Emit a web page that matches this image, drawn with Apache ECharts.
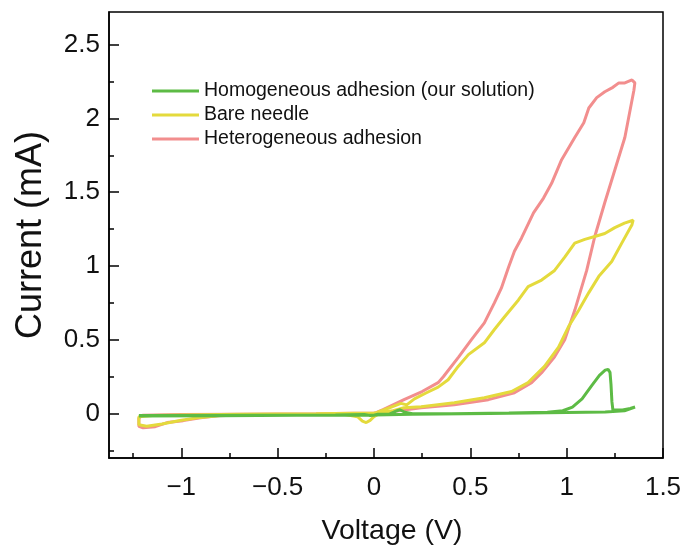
<!DOCTYPE html>
<html>
<head>
<meta charset="utf-8">
<script src="https://cdn.jsdelivr.net/npm/echarts@6/dist/echarts.min.js"></script>
<style>
html,body{margin:0;padding:0;background:#fff;}
#chart{width:687px;height:555px;}
</style>
</head>
<body>
<div id="chart"></div>
<script>
// ---- Data ----
const seriesNames = ['Homogeneous adhesion (our solution)', 'Bare needle', 'Heterogeneous adhesion'];

const homoX = [-1.22, -1.0, -0.6, -0.2, -0.05, -0.02, -0.01, 0.0, 0.02, 0.08, 0.12, 0.135, 0.16, 0.2, 0.4, 0.7, 0.9, 0.98, 1.03, 1.08, 1.13, 1.17, 1.2, 1.215, 1.225, 1.23, 1.235, 1.24, 1.29, 1.33, 1.355, 1.3, 1.2, 1.0, 0.6, 0.2, 0.0, -0.4, -0.8, -1.22];
const homoY = [-0.012, -0.012, -0.01, -0.008, -0.006, -0.012, -0.022, -0.01, -0.004, -0.003, 0.02, 0.027, 0.01, 0.0, 0.0, 0.005, 0.01, 0.02, 0.045, 0.1, 0.19, 0.26, 0.295, 0.3, 0.28, 0.2, 0.08, 0.025, 0.025, 0.035, 0.045, 0.02, 0.012, 0.008, 0.002, -0.004, -0.008, -0.01, -0.014, -0.015];

const bareX = [0.0, 0.06, 0.1, 0.14, 0.17, 0.21, 0.27, 0.333, 0.385, 0.437, 0.49, 0.573, 0.625, 0.677, 0.75, 0.80, 0.87, 0.9375, 0.99, 1.042, 1.094, 1.146, 1.198, 1.25, 1.30, 1.345, 1.339, 1.286, 1.234, 1.167, 1.115, 1.0625, 1.01, 0.958, 0.885, 0.80, 0.714, 0.573, 0.417, 0.245, 0.156, 0.1, 0.05, 0.0, -0.3, -0.7, -1.0, -1.15, -1.22, -1.22, -1.18, -1.1, -1.0, -0.9, -0.8, -0.5, -0.15, -0.085, -0.06, -0.04, -0.02, 0.0, 0.02];
const bareY = [0.0, 0.03, 0.05, 0.07, 0.06, 0.1, 0.14, 0.18, 0.23, 0.32, 0.40, 0.48, 0.57, 0.655, 0.77, 0.86, 0.905, 0.97, 1.06, 1.155, 1.18, 1.20, 1.22, 1.26, 1.29, 1.31, 1.28, 1.155, 1.03, 0.93, 0.82, 0.70, 0.59, 0.45, 0.32, 0.21, 0.15, 0.108, 0.074, 0.047, 0.04, 0.02, 0.01, 0.005, 0.0, -0.003, -0.008, -0.012, -0.02, -0.075, -0.085, -0.07, -0.045, -0.025, -0.012, -0.005, -0.005, -0.02, -0.05, -0.06, -0.045, -0.02, -0.005];

const hetX = [0.0, 0.05, 0.156, 0.25, 0.333, 0.36, 0.44, 0.505, 0.573, 0.625, 0.661, 0.698, 0.729, 0.766, 0.828, 0.88, 0.922, 0.974, 1.042, 1.089, 1.115, 1.156, 1.198, 1.24, 1.271, 1.302, 1.339, 1.354, 1.349, 1.302, 1.25, 1.198, 1.146, 1.104, 1.042, 0.99, 0.9375, 0.87, 0.818, 0.729, 0.594, 0.417, 0.245, 0.125, 0.0, -0.3, -0.7, -1.0, -1.2, -1.22, -1.22, -1.198, -1.135, -1.073, -0.99, -0.90, -0.81, -0.6, -0.3, 0.0];
const hetY = [0.0, 0.03, 0.095, 0.15, 0.21, 0.25, 0.385, 0.50, 0.615, 0.75, 0.85, 0.99, 1.10, 1.19, 1.36, 1.46, 1.56, 1.72, 1.87, 1.97, 2.07, 2.14, 2.18, 2.21, 2.24, 2.24, 2.26, 2.24, 2.19, 1.87, 1.65, 1.43, 1.20, 0.97, 0.70, 0.50, 0.385, 0.277, 0.21, 0.142, 0.095, 0.06, 0.04, 0.02, 0.005, 0.0, -0.003, -0.006, -0.01, -0.03, -0.085, -0.095, -0.088, -0.06, -0.047, -0.027, -0.014, -0.006, -0.003, 0.0];

const xMajorTicks = [-1, -0.5, 0, 0.5, 1, 1.5];
const xMinorTicks = [-1.25, -0.75, -0.25, 0.25, 0.75, 1.25];
const yMajorTicks = [0, 0.5, 1, 1.5, 2, 2.5];
const yMinorTicks = [-0.25, 0.25, 0.75, 1.25, 1.75, 2.25];

// ---- Chart ----
const pair = (xs, ys) => xs.map((x, i) => [x, ys[i]]);
const colors = { homo: '#5DBB45', bare: '#E4DA3C', het: '#F28E8E' };
const FONT = '"Liberation Sans", Arial, sans-serif';
const fmt = v => String(v).replace('-', '\u2212');

const xRange = { min: -1.375, max: 1.5 };
const yRange = { min: -0.3, max: 2.72 };

const chart = echarts.init(document.getElementById('chart'), null, { renderer: 'canvas' });
chart.setOption({
  animation: false,
  backgroundColor: '#fff',
  grid: { left: 109, top: 12, right: 24, bottom: 97, containLabel: false, outerBoundsMode: 'none', show: true, borderColor: '#000', borderWidth: 1.5, backgroundColor: 'transparent' },
  legend: {
    data: seriesNames,
    orient: 'vertical',
    left: 152, top: 81, padding: 0,
    itemWidth: 47, itemHeight: 3, itemGap: 4,
    icon: 'rect',
    textStyle: { fontFamily: FONT, fontSize: 19.5, color: '#111' }
  },
  xAxis: [{
    type: 'value', min: xRange.min, max: xRange.max,
    name: 'Voltage (V)', nameLocation: 'middle', nameGap: 59,
    nameTextStyle: { fontFamily: FONT, fontSize: 28.5, color: '#111', padding: [0, 0, 0, 12] },
    splitLine: { show: false },
    axisLine: { onZero: false, lineStyle: { color: '#000', width: 1.5 } },
    axisTick: { inside: true, length: 10, customValues: xMajorTicks, lineStyle: { color: '#000', width: 1.5 } },
    axisLabel: { customValues: xMajorTicks, formatter: fmt, fontFamily: FONT, fontSize: 26, color: '#111', margin: 17 }
  }, {
    type: 'value', min: xRange.min, max: xRange.max, position: 'bottom',
    splitLine: { show: false },
    axisLine: { show: false, onZero: false },
    axisTick: { inside: true, length: 5, customValues: xMinorTicks, lineStyle: { color: '#000', width: 1.5 } },
    axisLabel: { show: false }
  }],
  yAxis: [{
    type: 'value', min: yRange.min, max: yRange.max,
    name: 'Current (mA)', nameLocation: 'middle', nameGap: 60, nameRotate: 90,
    nameTextStyle: { fontFamily: FONT, fontSize: 36, color: '#111' },
    splitLine: { show: false },
    axisLine: { onZero: false, lineStyle: { color: '#000', width: 1.5 } },
    axisTick: { inside: true, length: 10, customValues: yMajorTicks, lineStyle: { color: '#000', width: 1.5 } },
    axisLabel: { customValues: yMajorTicks, formatter: fmt, fontFamily: FONT, fontSize: 26, color: '#111', margin: 9 }
  }, {
    type: 'value', min: yRange.min, max: yRange.max, position: 'left',
    splitLine: { show: false },
    axisLine: { show: false, onZero: false },
    axisTick: { inside: true, length: 5, customValues: yMinorTicks, lineStyle: { color: '#000', width: 1.5 } },
    axisLabel: { show: false }
  }],
  series: [
    { name: seriesNames[2], type: 'line', data: pair(hetX, hetY), showSymbol: false, color: colors.het, lineStyle: { width: 3, color: colors.het }, xAxisIndex: 0, yAxisIndex: 0 },
    { name: seriesNames[1], type: 'line', data: pair(bareX, bareY), showSymbol: false, color: colors.bare, lineStyle: { width: 3, color: colors.bare }, xAxisIndex: 0, yAxisIndex: 0 },
    { name: seriesNames[0], type: 'line', data: pair(homoX, homoY), showSymbol: false, color: colors.homo, lineStyle: { width: 3, color: colors.homo }, xAxisIndex: 0, yAxisIndex: 0 }
  ]
});
</script>
</body>
</html>
